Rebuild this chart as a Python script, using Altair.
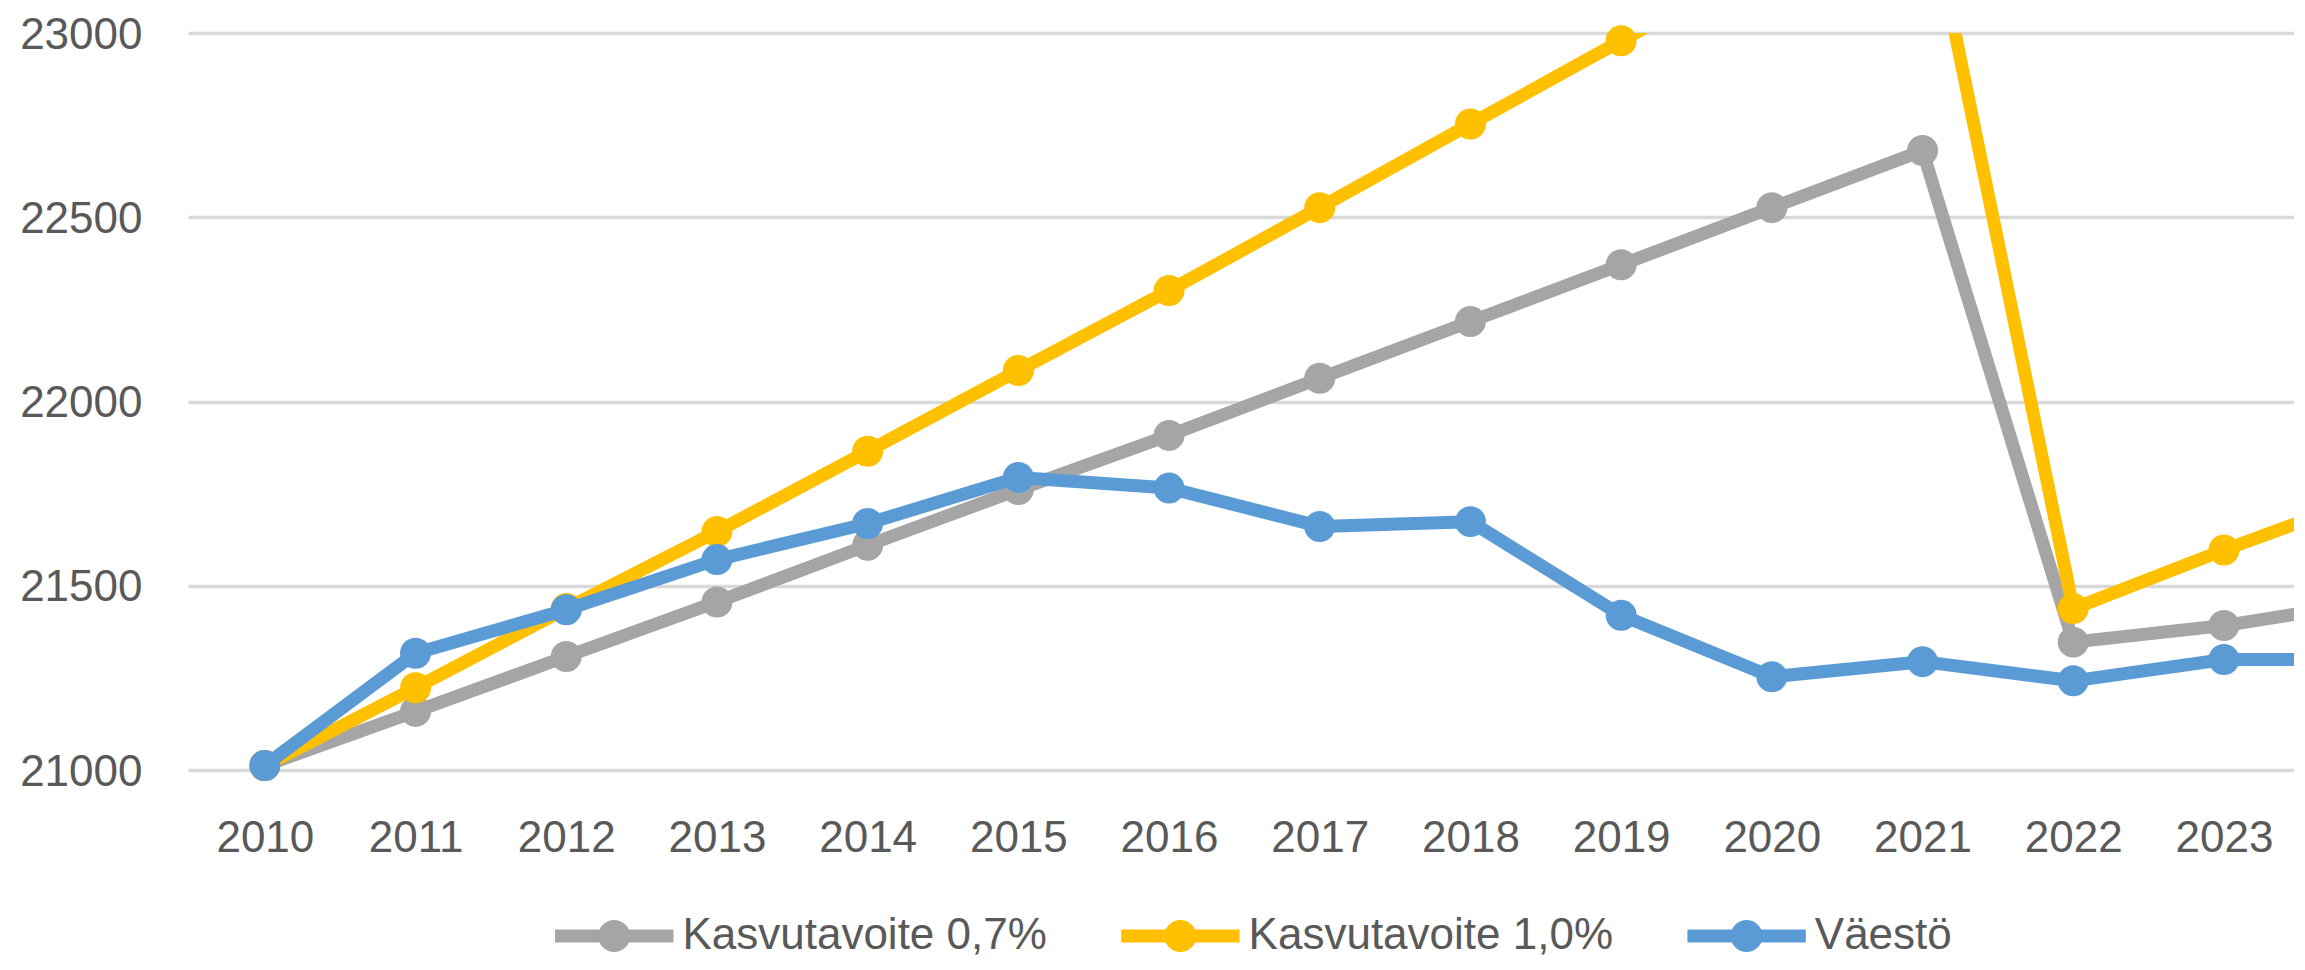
import altair as alt
import pandas as pd

# --- data ---
years = [2010, 2011, 2012, 2013, 2014, 2015, 2016, 2017, 2018, 2019, 2020, 2021, 2022, 2023, 2024]
kasvu_07 = [21012, 21159, 21308, 21456, 21610, 21761, 21908, 22063, 22217, 22371, 22526, 22681, 21347, 21392, 21457]
kasvu_10 = [21012, 21223, 21438, 21647, 21865, 22084, 22301, 22526, 22753, 22979, 23205, 23430, 21438, 21597, 21747]
vaesto = [21012, 21317, 21435, 21571, 21669, 21794, 21765, 21661, 21674, 21420, 21253, 21294, 21242, 21300, 21300]

series_names = ["Kasvutavoite 0,7%", "Kasvutavoite 1,0%", "Väestö"]
series_colors = ["#A5A5A5", "#FFC000", "#5B9BD5"]
series_values = [kasvu_07, kasvu_10, vaesto]

y_ticks = [21000, 21500, 22000, 22500, 23000]
x_ticks = list(range(2010, 2024))

rows = []
for name, vals in zip(series_names, series_values):
    for yr, v in zip(years, vals):
        rows.append({"sarja": name, "vuosi": yr, "arvo": v})
df = pd.DataFrame(rows)

FONT = "Liberation Sans"
TXT = "#595959"
FS = 44

x_scale = alt.Scale(domain=[2009.49, 2023.465], nice=False, zero=False)
y_scale = alt.Scale(domain=[21000, 23000], nice=False, zero=False)
col_scale = alt.Scale(domain=series_names, range=series_colors)

x_enc = alt.X("vuosi:Q", scale=x_scale,
              axis=alt.Axis(values=x_ticks, format="d", title=None, grid=False,
                            domain=False, ticks=False, tickSize=0, labelPadding=46,
                            labelFlush=False, labelOverlap=False,
                            labelFont=FONT, labelFontSize=FS, labelColor=TXT))
y_enc = alt.Y("arvo:Q", scale=y_scale,
              axis=alt.Axis(values=y_ticks, format="d", title=None, grid=True,
                            gridColor="#D9D9D9", gridWidth=3.5,
                            domain=False, ticks=False, tickSize=0, labelPadding=46,
                            labelOffset=2,
                            labelFont=FONT, labelFontSize=FS, labelColor=TXT))

# legend symbol: line with a circle marker (unit circle, line +-3.7)
sym_path = ("M-3.7,-0.4 L3.7,-0.4 L3.7,0.4 L-3.7,0.4 Z "
            "M-1,0 A1,1 0 1,1 1,0 A1,1 0 1,1 -1,0 Z")
r = 16
extra = 2.7 * r

legend = alt.Legend(
    title=None, orient="none", direction="horizontal", columns=3,
    legendX=361 + extra, legendY=881,
    symbolType=sym_path, symbolSize=(2 * r) ** 2, symbolStrokeWidth=0,
    symbolOpacity=1,
    labelFont=FONT, labelFontSize=FS, labelColor=TXT, labelLimit=800,
    labelOffset=extra + 3, columnPadding=30 + extra, padding=0,
)

base = alt.Chart(df)
layers = []
for name, color in zip(series_names, series_colors):
    line = base.transform_filter(alt.datum.sarja == name).mark_line(
        clip=True, strokeWidth=13, strokeJoin="round", strokeCap="round",
        color=color
    ).encode(x=x_enc, y=y_enc)
    pts = base.transform_filter(
        (alt.datum.sarja == name) & (alt.datum.vuosi <= 2023) & (alt.datum.arvo <= 23000)
    ).mark_circle(size=960, opacity=1).encode(
        x=x_enc, y=y_enc,
        fill=alt.Fill("sarja:N", scale=col_scale, legend=legend))
    layers += [line, pts]

chart = alt.layer(*layers).properties(
    width=2106, height=737,
    padding={"left": 180, "top": 25, "right": 0, "bottom": 190},
    autosize=alt.AutoSizeParams(type="none"),
    background="white",
).configure_view(stroke=None)

chart.save("out.html", embed_options={"renderer": "svg", "actions": False})
